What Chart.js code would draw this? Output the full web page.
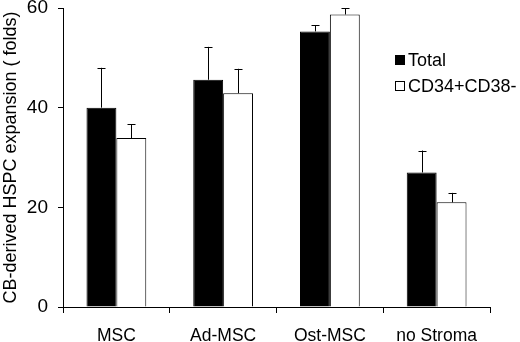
<!DOCTYPE html>
<html>
<head>
<meta charset="utf-8">
<script src="https://cdn.jsdelivr.net/npm/chart.js@4.4.1/dist/chart.umd.min.js"></script>
<style>
  html, body { margin: 0; padding: 0; background: #fff; }
  #wrap { width: 520px; height: 342px; }
</style>
</head>
<body>
<div id="wrap"><canvas id="chart" width="520" height="342"></canvas></div>
<script>
const categories = ["MSC", "Ad-MSC", "Ost-MSC", "no Stroma"];
const totalValues = [40, 45.6, 55.3, 27];
const totalErrors = [8, 6.6, 1.2, 4.4];
const cd34Values = [33.9, 42.9, 58.7, 21];
const cd34Errors = [2.8, 4.9, 1.3, 1.9];
const yTicks = [0, 20, 40, 60];

const FONT = "'Liberation Sans', Arial, sans-serif";

// upper-only error bars with a small cap
const errorBars = {
  id: "errorBars",
  afterDatasetsDraw(chart) {
    const ctx = chart.ctx;
    const y = chart.scales.y;
    ctx.save();
    ctx.strokeStyle = "#000";
    ctx.lineWidth = 1;
    chart.data.datasets.forEach((ds, i) => {
      chart.getDatasetMeta(i).data.forEach((bar, j) => {
        const top = y.getPixelForValue(ds.data[j] + ds.errors[j]);
        const x = Math.round(bar.x) + 0.5;
        ctx.beginPath();
        ctx.moveTo(x, bar.y);
        ctx.lineTo(x, top);
        ctx.moveTo(x - 4, Math.round(top) + 0.5);
        ctx.lineTo(x + 4, Math.round(top) + 0.5);
        ctx.stroke();
      });
    });
    ctx.restore();
  }
};

// legend drawn inside the plot, right side
const boxLegend = {
  id: "boxLegend",
  afterDraw(chart) {
    const ctx = chart.ctx;
    const area = chart.chartArea;
    const x = area.right - 95;
    let yy = area.top + 52;
    ctx.save();
    ctx.font = "18px " + FONT;
    ctx.textBaseline = "middle";
    chart.data.datasets.forEach(ds => {
      ctx.fillStyle = ds.backgroundColor;
      ctx.fillRect(x, yy - 5, 10, 10);
      ctx.strokeStyle = "#000";
      ctx.lineWidth = 1;
      ctx.strokeRect(x + 0.5, yy - 4.5, 9, 9);
      ctx.fillStyle = "#000";
      ctx.fillText(ds.label, x + 13, yy + 1);
      yy += 26;
    });
    ctx.restore();
  }
};

new Chart(document.getElementById("chart"), {
  type: "bar",
  data: {
    labels: categories,
    datasets: [
      { label: "Total", data: totalValues, errors: totalErrors, backgroundColor: "#000", borderColor: "#000", borderWidth: 1 },
      { label: "CD34+CD38-", data: cd34Values, errors: cd34Errors, backgroundColor: "#fff", borderColor: "#000", borderWidth: 1 }
    ]
  },
  options: {
    responsive: false,
    animation: false,
    layout: { padding: { top: 8, right: 30, left: 0, bottom: 0 } },
    categoryPercentage: 0.56,
    barPercentage: 1,
    plugins: { legend: { display: false }, tooltip: { enabled: false } },
    scales: {
      x: {
        grid: { offset: true, drawOnChartArea: false, drawTicks: true, tickLength: 6, color: "#000" },
        border: { display: true, color: "#000", width: 1 },
        ticks: { color: "#000", font: { family: FONT, size: 17.5 }, padding: 13 },
        afterFit: s => { s.height = 35; s.paddingLeft = 0; s.paddingRight = 0; }
      },
      y: {
        min: 0,
        max: 60,
        afterBuildTicks: s => { s.ticks = yTicks.map(v => ({ value: v })); },
        grid: { drawOnChartArea: false, drawTicks: true, tickLength: 5, color: "#000" },
        border: { display: true, color: "#000", width: 1 },
        ticks: { color: "#000", font: { family: FONT, size: 19 }, padding: 10 },
        title: {
          display: true,
          text: "CB-derived HSPC expansion ( folds)",
          color: "#000",
          font: { family: FONT, size: 18 },
          padding: { top: 0, bottom: 0 }
        },
        afterFit: s => { s.width = 63; s.paddingTop = 0; s.paddingBottom = 0; }
      }
    }
  },
  plugins: [errorBars, boxLegend]
});
</script>
</body>
</html>
